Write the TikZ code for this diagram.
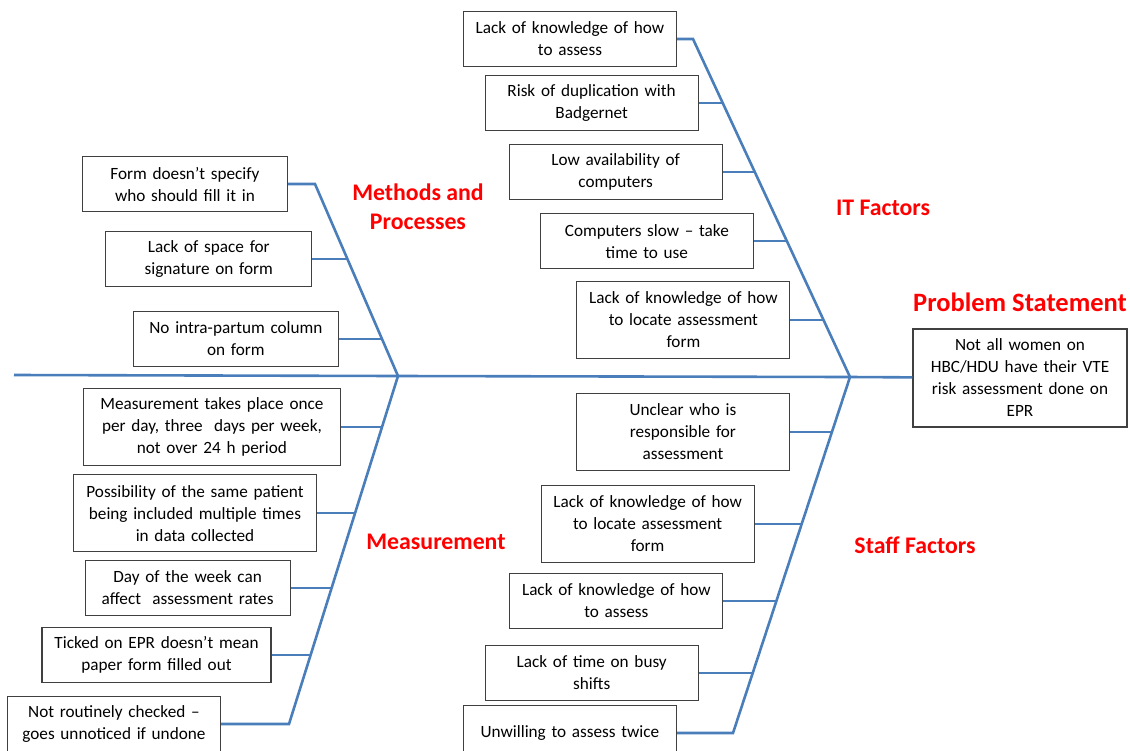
\documentclass[tikz,border=0pt]{standalone}
\usepackage{fontspec}
\setmainfont{Carlito}
\usepackage{xcolor}
\usetikzlibrary{positioning}
\definecolor{bonecol}{HTML}{4A7EBB}
\definecolor{boxcol}{HTML}{404040}

\begin{document}
\begin{tikzpicture}[
  x=1pt, y=-1pt,
  bone/.style={draw=bonecol, line width=2.6pt},
  cause/.style={draw=boxcol, line width=1.1pt, fill=white, align=center,
    text width=#1, inner xsep=4pt, inner ysep=2pt, minimum height=55pt,
    font=\fontsize{17.2}{22}\selectfont},
  cause/.default=205pt,
  tall/.style={minimum height=77pt},
  heading/.style={text=red, align=center, font=\bfseries\fontsize{23.8}{29}\selectfont}
]
  \useasboundingbox (0,0) rectangle (1130,750);

  \coordinate (tail) at (14,375);
  \coordinate (mj) at (398,376);
  \coordinate (sj) at (850,377);
  \coordinate (mtop) at (315,184);
  \coordinate (mbot) at (289,724);
  \coordinate (itop) at (693,39);
  \coordinate (sbot) at (733,733);
  \path (mtop) -- (mj) coordinate[pos=0.39] (m2) coordinate[pos=0.807] (m3);
  \path (mj) -- (mbot) coordinate[pos=0.147] (d1) coordinate[pos=0.394] (d2)
    coordinate[pos=0.609] (d3) coordinate[pos=0.802] (d4);
  \path (itop) -- (sj) coordinate[pos=0.189] (i2) coordinate[pos=0.393] (i3)
    coordinate[pos=0.598] (i4) coordinate[pos=0.831] (i5);
  \path (sj) -- (sbot) coordinate[pos=0.154] (s1) coordinate[pos=0.413] (s2)
    coordinate[pos=0.629] (s3) coordinate[pos=0.831] (s4);

  \node[cause=206pt, minimum height=98pt] (P) at (1020,378)
    {Not all women on\\HBC/HDU have their VTE\\risk assessment done on\\EPR};
  \draw[bone] (tail) -- (mj) -- (sj) -- (P);

  \node[cause=197pt, left=27pt of mtop] (A1) {Form doesn’t specify\\who should fill it in};
  \node[cause=198pt, left=35pt of m2] (A2) {Lack of space for\\signature on form};
  \node[cause=197pt, left=43pt of m3] (A3) {No intra-partum column\\on form};
  \draw[bone] (A1) -- (mtop) -- (mj);
  \draw[bone] (A2) -- (m2);
  \draw[bone] (A3) -- (m3);

  \node[cause=249pt, tall, left=41pt of d1] (M1)
    {Measurement takes place once\\per day, three\ \ days per week,\\not over 24 h period};
  \node[cause=235pt, tall, left=38pt of d2] (M2)
    {Possibility of the same patient\\being included multiple times\\in data collected};
  \node[cause=197pt, left=41pt of d3] (M3) {Day of the week can\\affect\ \ assessment rates};
  \node[cause=221pt, left=39pt of d4] (M4) {Ticked on EPR doesn’t mean\\paper form filled out};
  \node[cause=205pt, left=68pt of mbot] (M5) {Not routinely checked –\\goes unnoticed if undone};
  \draw[bone] (mj) -- (mbot) -- (M5);
  \draw[bone] (M1) -- (d1);
  \draw[bone] (M2) -- (d2);
  \draw[bone] (M3) -- (d3);
  \draw[bone] (M4) -- (d4);

  \node[cause, left=16pt of itop] (I1) {Lack of knowledge of how\\to assess};
  \node[cause, left=24pt of i2] (I2) {Risk of duplication with\\Badgernet};
  \node[cause, left=32pt of i3] (I3) {Low availability of\\computers};
  \node[cause, left=33pt of i4] (I4) {Computers slow – take\\time to use};
  \node[cause, tall, left=33pt of i5] (I5) {Lack of knowledge of how\\to locate assessment\\form};
  \draw[bone] (I1) -- (itop) -- (sj);
  \draw[bone] (I2) -- (i2);
  \draw[bone] (I3) -- (i3);
  \draw[bone] (I4) -- (i4);
  \draw[bone] (I5) -- (i5);

  \node[cause, tall, left=42pt of s1] (S1) {Unclear who is\\responsible for\\assessment};
  \node[cause, tall, left=47pt of s2] (S2) {Lack of knowledge of how\\to locate assessment\\form};
  \node[cause, left=53pt of s3] (S3) {Lack of knowledge of how\\to assess};
  \node[cause, left=54pt of s4] (S4) {Lack of time on busy\\shifts};
  \node[cause, left=56pt of sbot] (S5) {Unwilling to assess twice\\};
  \draw[bone] (sj) -- (sbot) -- (S5);
  \draw[bone] (S1) -- (s1);
  \draw[bone] (S2) -- (s2);
  \draw[bone] (S3) -- (s3);
  \draw[bone] (S4) -- (s4);

  \node[heading] (hm) at (418,207) {Methods and\\Processes};
  \node[heading] (hi) at (883,208) {IT Factors};
  \node[heading] (hme) at (436,542) {Measurement};
  \node[heading] (hs) at (915,545) {Staff Factors};
  \node[heading, font=\bfseries\fontsize{26.5}{30}\selectfont] (hp) at (1020,302) {Problem Statement};
\end{tikzpicture}
\end{document}
